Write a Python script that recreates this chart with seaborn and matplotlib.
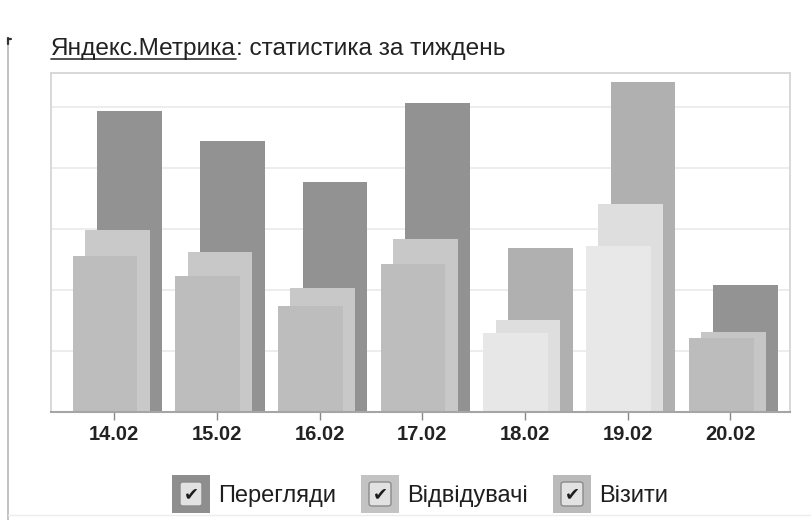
import numpy as np
import pandas as pd
import matplotlib
matplotlib.use("Agg")
import matplotlib.pyplot as plt
from matplotlib.patches import Rectangle, FancyBboxPatch
from matplotlib.lines import Line2D
import seaborn as sns

# ---- data (in grid units) ----
days = ["14.02", "15.02", "16.02", "17.02", "18.02", "19.02", "20.02"]
series_names = ["Перегляди", "Відвідувачі", "Візити"]
views = [4.92, 4.44, 3.76, 5.06, 2.69, 5.41, 2.08]
visitors = [2.98, 2.62, 2.03, 2.84, 1.50, 3.40, 1.31]
visits = [2.56, 2.22, 1.74, 2.42, 1.29, 2.72, 1.21]

views_colors = ["#929292", "#929292", "#929292", "#929292", "#b0b0b0", "#b0b0b0", "#939393"]
visitors_colors = ["#c9c9c9", "#c8c8c8", "#c8c8c8", "#c8c8c8", "#dedede", "#dedede", "#c6c6c6"]
visits_colors = ["#bdbdbd", "#bdbdbd", "#bdbdbd", "#bdbdbd", "#e7e7e7", "#e8e8e8", "#bcbcbc"]
legend_colors = ["#8e8e8e", "#c3c3c3", "#bababa"]

title_link = "Яндекс.Метрика"
title_rest = ": статистика за тиждень"

W, H = 812, 520
sns.set_theme(style="white")
plt.rcParams["font.family"] = ["Liberation Sans", "DejaVu Sans"]

fig = plt.figure(figsize=(W / 100, H / 100), dpi=100)
fig.patch.set_facecolor("white")

def fx(px):
    return px / W

def fy(py):
    return 1 - py / H

left, right, top, bottom = 51, 790, 73, 412
ax = fig.add_axes([fx(left), fy(bottom), fx(right - left), (bottom - top) / H])
ax.set_facecolor("white")

bar_w = 0.63
offsets = [0.15, 0.03, -0.09]
vals_all = [views, visitors, visits]
cols_all = [views_colors, visitors_colors, visits_colors]
for vals, cols, off in zip(vals_all, cols_all, offsets):
    sub = pd.DataFrame({"x": np.arange(len(days)) + off, "y": vals, "day": days})
    sns.barplot(data=sub, x="x", y="y", hue="day", palette=dict(zip(days, cols)),
                native_scale=True, width=bar_w, dodge=False, legend=False,
                saturation=1, linewidth=0, ax=ax)

ax.set_xlim(-0.615, 6.58)
ax.set_ylim(0, 5.55)
ax.set_yticks([1, 2, 3, 4, 5])
ax.set_yticklabels([])
ax.tick_params(axis="y", length=0)
ax.yaxis.grid(True, color="#ececec", lw=1.3)
ax.xaxis.grid(False)
ax.set_axisbelow(True)
ax.set_xticks(range(len(days)))
ax.set_xticklabels(days, fontsize=14.5, fontweight="bold", color="#222222")
ax.tick_params(axis="x", length=6, width=1, color="#888888", direction="out", pad=3, bottom=True)
ax.set_xlabel("")
ax.set_ylabel("")
for s in ["left", "top", "right"]:
    ax.spines[s].set_color("#d6d6d6")
    ax.spines[s].set_linewidth(1.3)
ax.spines["bottom"].set_color("#a5a5a5")
ax.spines["bottom"].set_linewidth(1.5)

# ---- title with underlined link part ----
tsize = 17.6
t1 = fig.text(fx(51), fy(55), title_link, fontsize=tsize, color="#222222", ha="left", va="baseline")
fig.canvas.draw()
r = fig.canvas.get_renderer()
bb = t1.get_window_extent(r)
fig.text(bb.x1 / W, fy(55), title_rest, fontsize=tsize, color="#222222", ha="left", va="baseline")
fig.add_artist(Line2D([bb.x0 / W, bb.x1 / W], [fy(58.5), fy(58.5)], color="#333333", lw=1.2))

# ---- left page edge line ----
fig.add_artist(Line2D([fx(8), fx(8)], [fy(38), fy(520)], color="#b8b8b8", lw=1.2))
fig.add_artist(Line2D([fx(8), fx(11)], [fy(38.5), fy(38.5)], color="#333333", lw=1.6))
fig.add_artist(Line2D([fx(8.5), fx(8.5)], [fy(38), fy(44)], color="#333333", lw=1.6))
fig.add_artist(Line2D([fx(8), fx(812)], [fy(515), fy(515)], color="#ededed", lw=1))

# ---- legend with checkboxes ----
box_x = [172, 361, 553]
text_x = [218, 407, 599]
by0, bsz = 475, 38
for name, c, bx, tx in zip(series_names, legend_colors, box_x, text_x):
    fig.add_artist(Rectangle((fx(bx), fy(by0 + bsz)), bsz / W, bsz / H,
                             facecolor=c, edgecolor="none", transform=fig.transFigure))
    fig.add_artist(FancyBboxPatch((fx(bx + 8), fy(by0 + 31)), 22 / W, 24 / H,
                                  boxstyle="round,pad=0,rounding_size=0.004",
                                  facecolor="#e2e2e2", edgecolor="#8a8a8a", lw=1,
                                  transform=fig.transFigure))
    fig.text(fx(bx + 19), fy(by0 + 19), "✔", fontsize=13, family="DejaVu Sans",
             color="#1e1e1e", ha="center", va="center")
    fig.text(fx(tx), fy(by0 + 27), name, fontsize=17, color="#1e1e1e",
             ha="left", va="baseline")

fig.savefig("out.png", dpi=100, facecolor="white")
